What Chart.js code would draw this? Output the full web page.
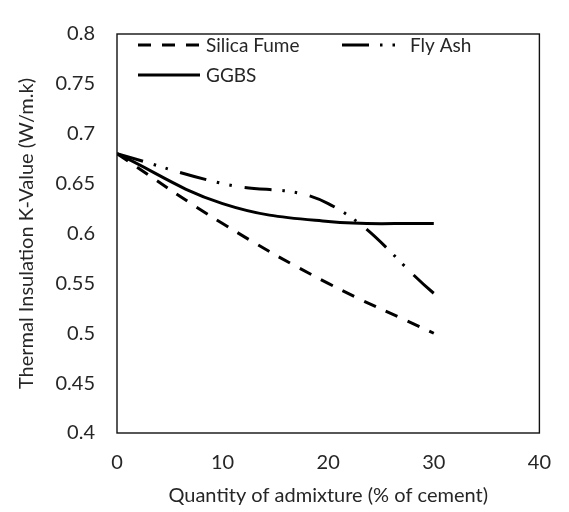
<!DOCTYPE html>
<html>
<head>
<meta charset="utf-8">
<script src="https://cdn.jsdelivr.net/npm/chart.js@4"></script>
<style>
  html, body { margin: 0; padding: 0; background: #fff; }
  #wrap { width: 569px; height: 512px; }
</style>
</head>
<body>
<div id="wrap"><canvas id="kchart" width="569" height="512"></canvas></div>
<script>
// 혼화재 치환율 (% of cement)
const admixture = [0, 10, 20, 30];

// 열전도율 K값 (W/m.k)
const silicaFume = [0.68, 0.61, 0.55, 0.50];
const flyAsh = [0.68, 0.65, 0.63, 0.54];
const ggbs = [0.68, 0.63, 0.612, 0.61];

// 축 눈금
const xTicks = [0, 10, 20, 30, 40];
const yTicks = [0.4, 0.45, 0.5, 0.55, 0.6, 0.65, 0.7, 0.75, 0.8];

const FONT = 'Lato';
const TEXT = '#262626';

function toPoints(ys) {
    return admixture.map((x, i) => ({ x: x, y: ys[i] }));
}

// 차트 영역 테두리
const frame = {
    id: 'frame',
    afterDatasetsDraw(chart) {
        const a = chart.chartArea, ctx = chart.ctx;
        ctx.save();
        ctx.strokeStyle = '#111';
        ctx.lineWidth = 1.4;
        ctx.strokeRect(a.left, a.top, a.right - a.left, a.bottom - a.top);
        ctx.restore();
    }
};

// 범례 (차트 안쪽 좌상단)
const insideLegend = {
    id: 'insideLegend',
    afterDraw(chart) {
        const ctx = chart.ctx;
        const slots = [
            { x: 138, y: 45, w: 62 },
            { x: 342, y: 45, w: 56 },
            { x: 138, y: 75, w: 62 }
        ];
        ctx.save();
        chart.data.datasets.forEach((ds, i) => {
            const s = slots[i];
            ctx.beginPath();
            ctx.setLineDash(ds.borderDash || []);
            ctx.lineWidth = ds.borderWidth;
            ctx.strokeStyle = ds.borderColor;
            ctx.lineCap = 'butt';
            ctx.moveTo(s.x, s.y);
            ctx.lineTo(s.x + s.w, s.y);
            ctx.stroke();
            ctx.setLineDash([]);
            ctx.fillStyle = TEXT;
            ctx.font = '19px ' + FONT;
            ctx.textBaseline = 'middle';
            ctx.fillText(ds.label, s.x + s.w + (i === 1 ? 12 : 6), s.y + 1);
        });
        ctx.restore();
    }
};

const kChart = new Chart(document.getElementById('kchart'), {
    type: 'line',
    data: {
        datasets: [
            {
                label: 'Silica Fume',
                data: toPoints(silicaFume),
                borderColor: '#000',
                borderWidth: 3,
                borderDash: [13, 11],
                tension: 0.4
            },
            {
                label: 'Fly Ash',
                data: toPoints(flyAsh),
                borderColor: '#000',
                borderWidth: 3,
                borderDash: [27, 11, 2.5, 10, 2.5, 13],
                tension: 0.4
            },
            {
                label: 'GGBS',
                data: toPoints(ggbs),
                borderColor: '#000',
                borderWidth: 3,
                tension: 0.4
            }
        ]
    },
    options: {
        responsive: false,
        animation: false,
        layout: { padding: { top: 19, right: 20, left: 0, bottom: 0 } },
        elements: { point: { radius: 0 } },
        plugins: {
            legend: { display: false },
            tooltip: { enabled: false }
        },
        scales: {
            x: {
                type: 'linear',
                min: 0,
                max: 40,
                afterBuildTicks: s => { s.ticks = xTicks.map(v => ({ value: v })); },
                afterFit: s => { s.height = 79; },
                grid: { display: false, drawTicks: false },
                border: { display: false },
                ticks: {
                    padding: 18,
                    color: TEXT,
                    font: { family: FONT, size: 20 },
                    callback: v => String(v)
                },
                title: {
                    display: true,
                    text: 'Quantity of admixture (% of cement)',
                    color: TEXT,
                    font: { family: FONT, size: 20 },
                    padding: { top: 8, bottom: 4 }
                }
            },
            y: {
                type: 'linear',
                min: 0.4,
                max: 0.8,
                afterBuildTicks: s => { s.ticks = yTicks.map(v => ({ value: v })); },
                afterFit: s => { s.width = 117; },
                grid: { display: false, drawTicks: false },
                border: { display: false },
                ticks: {
                    padding: 22,
                    color: TEXT,
                    font: { family: FONT, size: 20 },
                    callback: v => String(+v.toFixed(2))
                },
                title: {
                    display: true,
                    text: 'Thermal Insulation K-Value (W/m.k)',
                    color: TEXT,
                    font: { family: FONT, size: 20 },
                    padding: { top: 15, bottom: 0 }
                }
            }
        }
    },
    plugins: [frame, insideLegend]
});
</script>
</body>
</html>
